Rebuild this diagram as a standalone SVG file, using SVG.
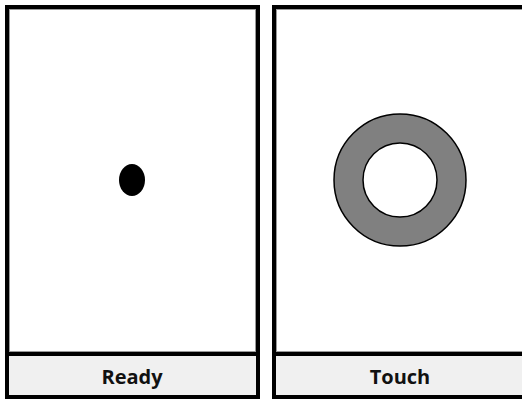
<svg xmlns="http://www.w3.org/2000/svg" width="522" height="400" viewBox="0 0 522 400">
<style>
.frame{fill:#ffffff;stroke:#000;stroke-width:4}
.inner{fill:none;stroke:#999;stroke-width:1}
.bar{fill:#f0f0f0}
.div{stroke:#000;stroke-width:4}
.lbl{font-family:"Open Sans","Noto Sans",sans-serif;font-weight:bold;font-size:20px;fill:#111;text-anchor:middle}
</style>
<g id="ready">
<rect class="frame" x="7" y="7" width="251" height="390"/>
<rect class="inner" x="9.5" y="9.5" width="246" height="342"/>
<rect class="bar" x="9" y="356" width="247" height="39"/>
<line class="div" x1="7" y1="354" x2="258" y2="354"/>
<ellipse cx="132" cy="180" rx="13" ry="16" fill="#000"/>
<text class="lbl" x="132" y="384">Ready</text>
</g>
<g id="touch">
<rect class="frame" x="274" y="7" width="251" height="390"/>
<rect class="inner" x="276.5" y="9.5" width="246" height="342"/>
<rect class="bar" x="276" y="356" width="247" height="39"/>
<line class="div" x1="274" y1="354" x2="525" y2="354"/>
<circle cx="400" cy="180" r="51.5" fill="none" stroke="#808080" stroke-width="29"/>
<circle cx="400" cy="180" r="66" fill="none" stroke="#000" stroke-width="1.5"/>
<circle cx="400" cy="180" r="37" fill="#fff" stroke="#000" stroke-width="1.5"/>
<text class="lbl" x="400" y="384">Touch</text>
</g>
</svg>
